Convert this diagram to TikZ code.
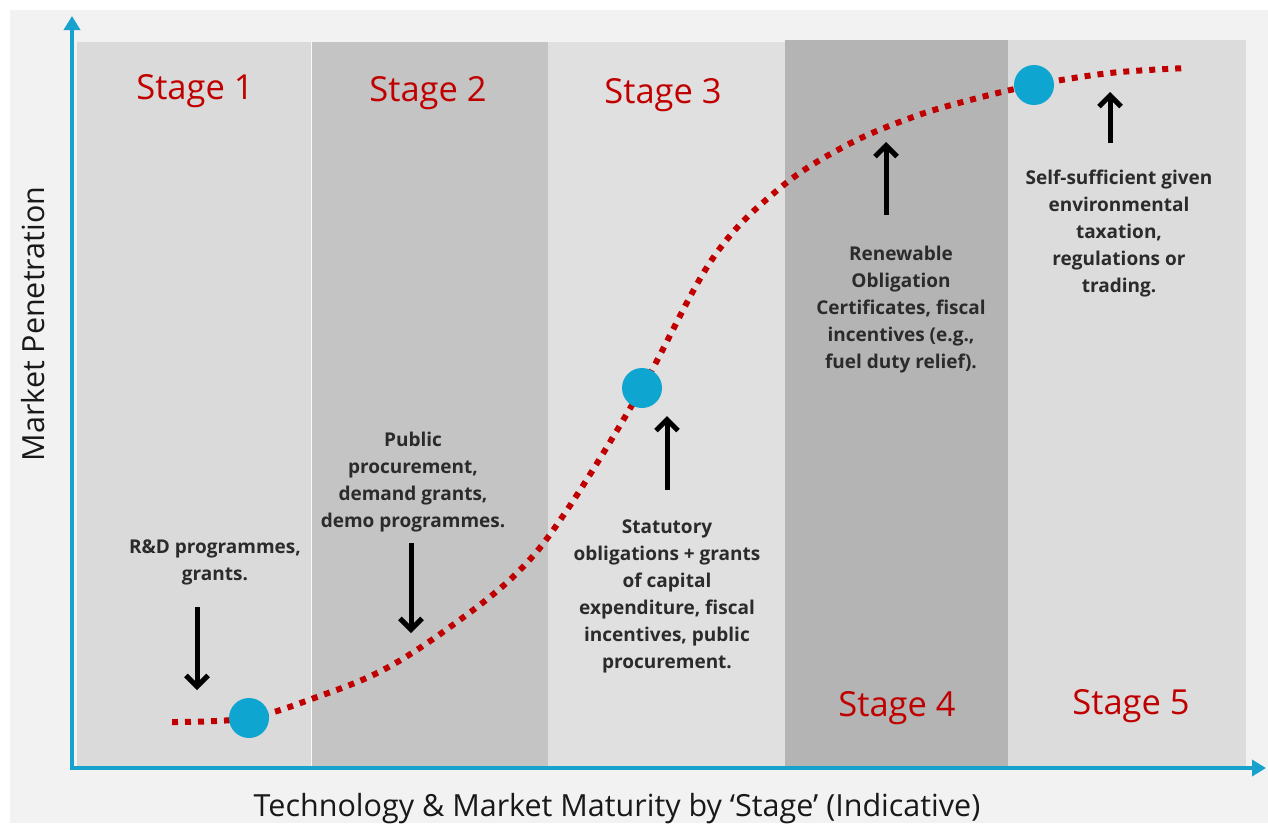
\documentclass[tikz,border=0pt]{standalone}
\usepackage{fontspec}
\setmainfont{Open Sans}
\usetikzlibrary{arrows.meta}
\definecolor{pagebg}{HTML}{F2F2F2}
\definecolor{sOne}{HTML}{DADADA}
\definecolor{sTwo}{HTML}{C4C4C4}
\definecolor{sThree}{HTML}{E0E0E0}
\definecolor{sFour}{HTML}{B4B4B4}
\definecolor{sFive}{HTML}{DCDCDC}
\definecolor{axisblue}{HTML}{16A2CC}
\definecolor{dotblue}{HTML}{0EA5D0}
\definecolor{stagered}{HTML}{C00000}
\definecolor{txtgray}{HTML}{2B2B2B}
\tikzset{
  stagelbl/.style={text=stagered, font=\fontsize{34.5}{40}\selectfont, anchor=base, inner sep=0pt},
  note/.style={text=txtgray, font=\bfseries\fontsize{19}{27}\selectfont, align=center, anchor=north, inner sep=0pt},
  axislbl/.style={text=black!90, font=\fontsize{30.5}{36}\selectfont, inner sep=0pt},
  policy/.style={draw=black, line width=5pt, -{Straight Barb[length=11pt,width=22pt,line width=5pt]}},
  axisline/.style={draw=axisblue, line width=4pt, {Triangle[length=14pt,width=16pt]}-{Triangle[length=14pt,width=16pt]}},
  curve/.style={draw=stagered, line width=6pt, dash pattern=on 6pt off 7pt},
  bigdot/.style={circle, fill=dotblue, minimum size=40pt, inner sep=0pt},
}
\begin{document}
\begin{tikzpicture}[x=1pt,y=-1pt]
\useasboundingbox (0,0) rectangle (1268,823);
\fill[white] (0,0) rectangle (1268,823);
\fill[pagebg] (10,10) rectangle (1268,823);
% stage panels
\fill[sOne] (77,42) rectangle (311,768);
\fill[sTwo] (311,42) rectangle (548,768);
\fill[sThree] (548,42) rectangle (785,768);
\fill[sFour] (785,40) rectangle (1008,768);
\fill[sFive] (1008,40) rectangle (1246,768);
\draw[white!85!sOne, line width=1pt] (311,42) -- (311,768);
% stage labels
\node[stagelbl] (st1) at (195,99) {Stage 1};
\node[stagelbl] (st2) at (428,101) {Stage 2};
\node[stagelbl] (st3) at (663,103) {Stage 3};
\node[stagelbl] (st4) at (897,716) {Stage 4};
\node[stagelbl] (st5) at (1131,714) {Stage 5};
% axes
\coordinate (ytop) at (72,16);
\coordinate (orig) at (72,768);
\coordinate (xend) at (1266,768);
\draw[axisline] (ytop) -- (orig) -- (xend);
\node[axislbl, rotate=90] (ylab) at (33,324) {Market Penetration};
\node[axislbl, anchor=base] (xlab) at (617,816) {Technology \& Market Maturity by ‘Stage’ (Indicative)};
% curve
\draw[curve] plot[smooth, tension=0.6] coordinates {(172,722) (249,718) (317,697) (383,670) (450,627) (517,573) (567,510) (642,388) (713,258) (780,188) (847,145) (913,117) (970,100) (1034,85) (1110,73) (1187,68)};
\node[bigdot] (d1) at (249,718) {};
\node[bigdot] (d2) at (642,388) {};
\node[bigdot] (d3) at (1034,85) {};
% notes
\node[note] (n1) at (215,540) {R\&D programmes,\\grants.};
\node[note] (n2) at (413,432) {Public\\procurement,\\demand grants,\\demo programmes.};
\node[note] (n3) at (667,520) {Statutory\\obligations + grants\\of capital\\expenditure, fiscal\\incentives, public\\procurement.};
\node[note] (n4) at (901,246) {Renewable\\Obligation\\Certificates, fiscal\\incentives (e.g.,\\fuel duty relief).};
\node[note] (n5) at (1119,170) {Self-sufficient given\\environmental\\taxation,\\regulations or\\trading.};
% policy arrows
\coordinate (a1s) at (197,607); \coordinate (a1e) at (197,690);
\coordinate (a2s) at (411,543); \coordinate (a2e) at (411,633);
\coordinate (a3s) at (667,490); \coordinate (a3e) at (667,416);
\coordinate (a4s) at (886,215); \coordinate (a4e) at (886,142);
\coordinate (a5s) at (1110,143); \coordinate (a5e) at (1110,92);
\draw[policy] (a1s) -- (a1e);
\draw[policy] (a2s) -- (a2e);
\draw[policy] (a3s) -- (a3e);
\draw[policy] (a4s) -- (a4e);
\draw[policy] (a5s) -- (a5e);
\end{tikzpicture}
\end{document}
